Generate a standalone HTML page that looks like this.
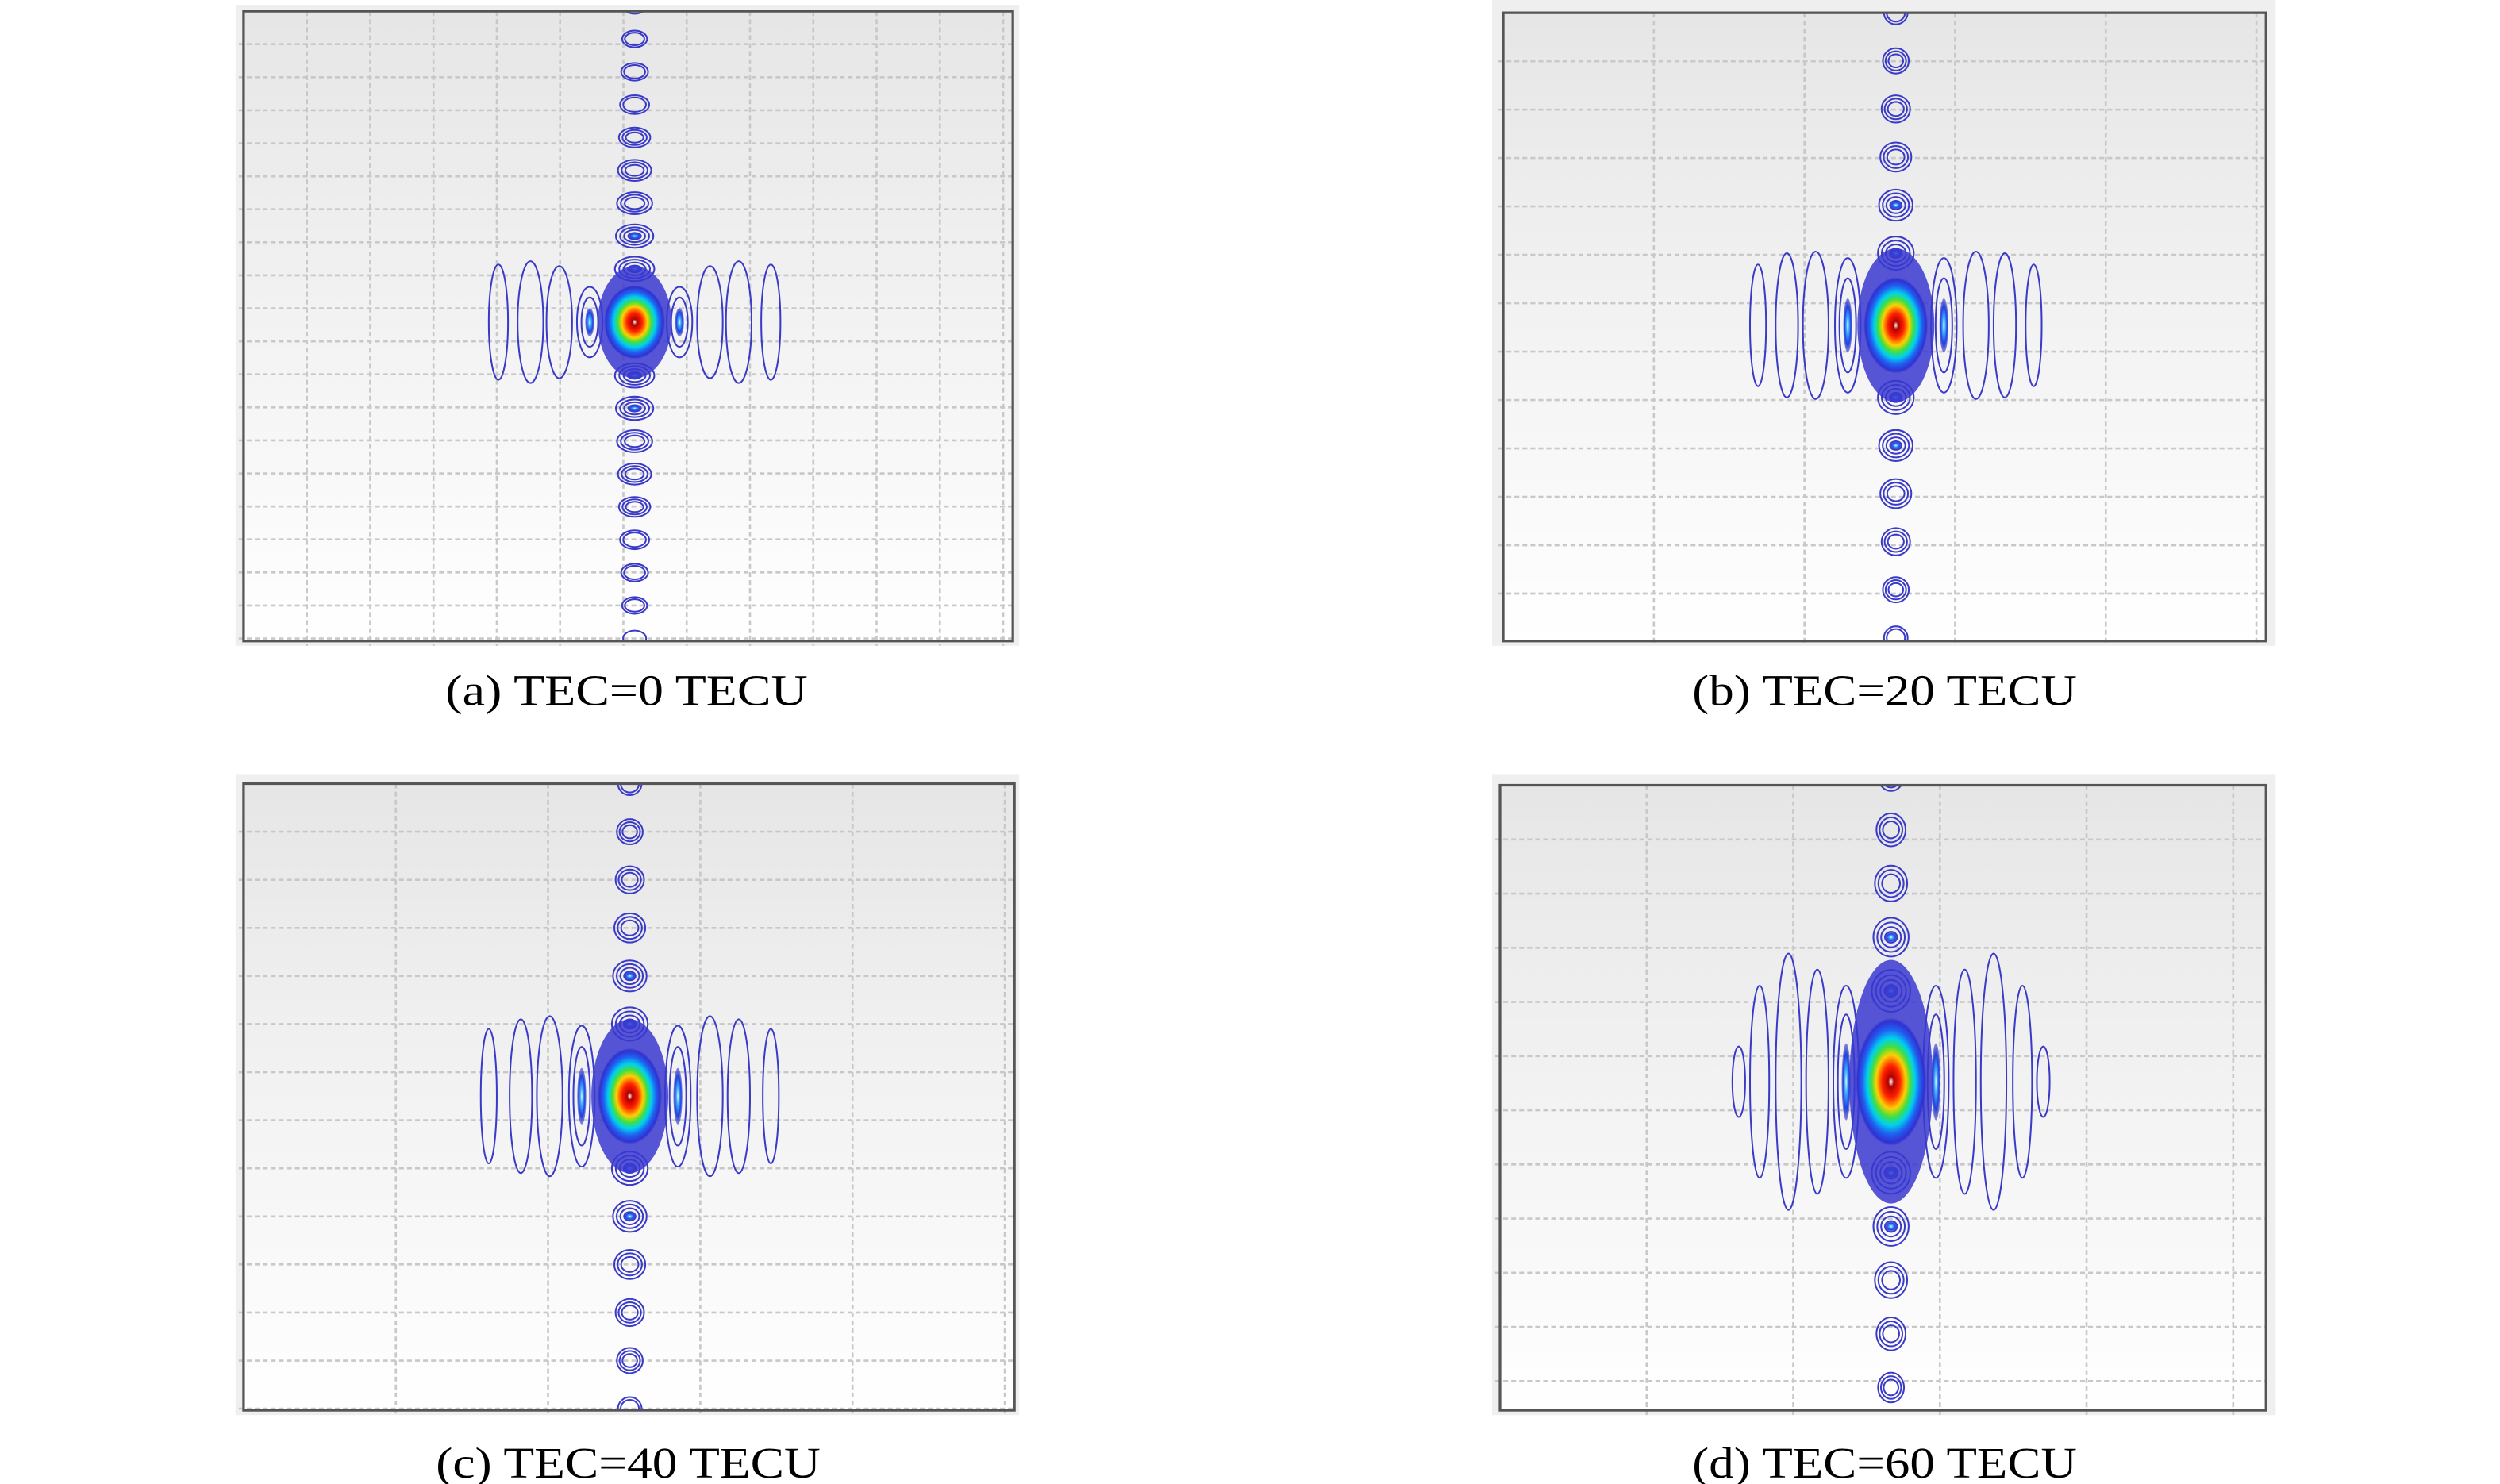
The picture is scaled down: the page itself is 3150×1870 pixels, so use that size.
<!DOCTYPE html>
<html><head><meta charset="utf-8"><style>
html,body{margin:0;padding:0;background:#fff;}
svg{display:block;}
text{font-family:"Liberation Serif",serif;fill:#000;}
</style></head><body>
<svg id="s" width="3150" height="1870" viewBox="0 0 1560 926" preserveAspectRatio="none" xmlns="http://www.w3.org/2000/svg">
<defs>
<linearGradient id="bg" x1="0" y1="0" x2="0" y2="1"><stop offset="0" stop-color="#e6e6e6"/><stop offset="1" stop-color="#ffffff"/></linearGradient>
<radialGradient id="blob" cx="0.5" cy="0.5" r="0.5">
<stop offset="0" stop-color="#ffffff"/><stop offset="0.08" stop-color="#b00000"/><stop offset="0.25" stop-color="#ff2000"/><stop offset="0.42" stop-color="#ffd000"/><stop offset="0.55" stop-color="#40e040"/><stop offset="0.68" stop-color="#00d0f0"/><stop offset="0.82" stop-color="#2060f0"/><stop offset="0.95" stop-color="#3030d0"/><stop offset="1" stop-color="#3030d0" stop-opacity="0"/>
</radialGradient>
<radialGradient id="blu" cx="0.5" cy="0.5" r="0.5">
<stop offset="0" stop-color="#e0f8ff"/><stop offset="0.3" stop-color="#40b0ff"/><stop offset="0.7" stop-color="#2040e0"/><stop offset="1" stop-color="#4040c8" stop-opacity="0.6"/>
</radialGradient>
</defs>
<g id="g"></g>
<text x="391" y="440" font-size="27" text-anchor="middle" textLength="226" lengthAdjust="spacingAndGlyphs">(a) TEC=0 TECU</text>
<text x="1176" y="440" font-size="27" text-anchor="middle" textLength="240" lengthAdjust="spacingAndGlyphs">(b) TEC=20 TECU</text>
<text x="392" y="922" font-size="27" text-anchor="middle" textLength="240" lengthAdjust="spacingAndGlyphs">(c) TEC=40 TECU</text>
<text x="1176" y="922" font-size="27" text-anchor="middle" textLength="240" lengthAdjust="spacingAndGlyphs">(d) TEC=60 TECU</text>
</svg>
<script>
var g=document.getElementById('g'),h='',cid=0;
function P(o){
 cid++;
 h+='<rect x="'+o.bx+'" y="'+o.by+'" width="'+o.bw+'" height="'+o.bh+'" fill="#efefef"/>';
 h+='<rect x="'+o.fx+'" y="'+o.fy+'" width="'+o.fw+'" height="'+o.fh+'" fill="url(#bg)"/>';
 h+='<clipPath id="c'+cid+'"><rect x="'+o.fx+'" y="'+o.fy+'" width="'+o.fw+'" height="'+o.fh+'"/></clipPath>';
 h+='<g stroke="#c8c8c8" stroke-width="1.3" stroke-dasharray="3,2" fill="none">';
 for(var x=o.fx+o.vs;x<o.fx+o.fw;x+=o.vs)h+='<line x1="'+x+'" y1="'+(o.fy)+'" x2="'+x+'" y2="'+(o.fy+o.fh+3)+'"/>';
 for(var y=o.fy+o.hs;y<o.fy+o.fh;y+=o.hs)h+='<line x1="'+(o.fx-3)+'" y1="'+y+'" x2="'+(o.fx+o.fw)+'" y2="'+y+'"/>';
 h+='</g><g clip-path="url(#c'+cid+')" fill="none" stroke="#3a3ac8" stroke-width="1">';
 var cx=o.cx,cy=o.cy;
 for(var k=1;k<=o.n;k++){
  [1,-1].forEach(function(s){
   var y=cy+s*(o.bh2+ (k-0.5)*o.sp);
   var t=k/o.n, rx=o.crx*(1-0.45*t), ry=o.cry*(1-0.4*t);
   var rings=k<3?4:(k<6?3:(k<9?2:1));
   for(var r=0;r<rings;r++)h+='<ellipse cx="'+cx+'" cy="'+y.toFixed(1)+'" rx="'+(rx*(1-r*0.22)).toFixed(1)+'" ry="'+(ry*(1-r*0.24)).toFixed(1)+'"/>';
   if(k<=2)h+='<ellipse cx="'+cx+'" cy="'+y.toFixed(1)+'" rx="'+(rx*0.35)+'" ry="'+(ry*0.25)+'" fill="url(#blu)" stroke="none"/>';
  });
 }
 o.lobes.forEach(function(L){
  [1,-1].forEach(function(s){
   var x=cx+s*L[0];
   h+='<ellipse cx="'+x+'" cy="'+cy+'" rx="'+L[1]+'" ry="'+L[2]+'"/>';
   if(L[0]<o.bw2+15){h+='<ellipse cx="'+x+'" cy="'+cy+'" rx="'+(L[1]*0.65)+'" ry="'+(L[2]*0.7)+'"/><ellipse cx="'+x+'" cy="'+cy+'" rx="'+(L[1]*0.35)+'" ry="'+(L[2]*0.4)+'" fill="url(#blu)" stroke="none"/>';}
  });
 });
 h+='</g>';
 h+='<ellipse cx="'+cx+'" cy="'+cy+'" rx="'+(o.bw2+4)+'" ry="'+(o.bh2+o.ext)+'" fill="#3838d0" opacity="0.85"/>';
 h+='<ellipse cx="'+cx+'" cy="'+cy+'" rx="'+o.bw2+'" ry="'+o.bh2+'" fill="url(#blob)"/>';
 h+='<rect x="'+o.fx+'" y="'+o.fy+'" width="'+o.fw+'" height="'+o.fh+'" fill="none" stroke="#555" stroke-width="1.6"/>';
}
P({bx:147,by:3,bw:489,bh:400,fx:152,fy:7,fw:480,fh:393,vs:39.5,hs:20.6,cx:396,cy:201,n:9,sp:20.5,crx:13,cry:8,bw2:19,bh2:23,ext:12,
 lobes:[[28,8,22],[47,8,35],[65,8,38],[85,6,36]]});
P({bx:931,by:0,bw:489,bh:403,fx:938,fy:8,fw:476,fh:392,vs:94,hs:30.2,cx:1183,cy:203,n:7,sp:30,crx:12,cry:11,bw2:20,bh2:30,ext:18,
 lobes:[[30,8,42],[50,8,46],[68,7,45],[86,5,38]]});
P({bx:147,by:483,bw:489,bh:400,fx:152,fy:489,fw:481,fh:391,vs:95,hs:30,cx:393,cy:684,n:7,sp:30,crx:12,cry:11,bw2:20,bh2:30,ext:18,
 lobes:[[30,8,44],[50,8,50],[68,7,48],[88,5,42]]});
P({bx:931,by:483,bw:489,bh:400,fx:936,fy:490,fw:478,fh:390,vs:91.5,hs:33.8,cx:1180,cy:675,n:6,sp:33.5,crx:13,cry:14,bw2:22,bh2:40,ext:36,
 lobes:[[28,8,60],[46,7,70],[64,8,80],[82,6,60],[95,4,22]]});
g.innerHTML=h;
document.getElementById('s').innerHTML=document.getElementById('s').innerHTML;
</script>
</body></html>
